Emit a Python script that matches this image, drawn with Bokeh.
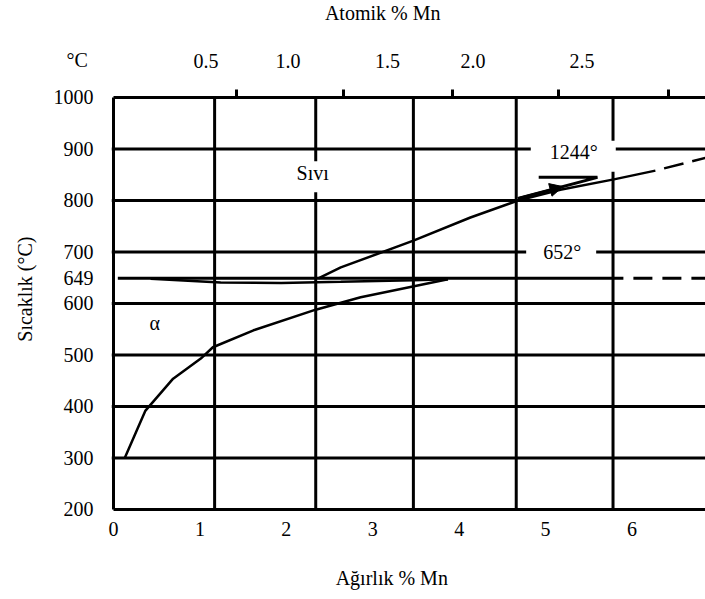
import math
from bokeh.plotting import figure
from bokeh.models import Range1d, FixedTicker, LinearAxis, Label, Arrow, NormalHead
from bokeh.embed import file_html
from bokeh.resources import INLINE

FONT = "Liberation Serif"

# ---- axes / ticks ----
wt_ticks = [0, 1, 2, 3, 4, 5, 6]                       # Ağırlık % Mn
temp_ticks = [200, 300, 400, 500, 600, 649, 700, 800, 900, 1000]
temp_grid = [300, 400, 500, 600, 700, 800, 900]
wt_grid = [1.17, 2.34, 3.47, 4.66, 5.78]
at_labels = ["0.5", "1.0", "1.5", "2.0", "2.5"]        # Atomik % Mn
at_label_wt = [1.07, 2.02, 3.17, 4.16, 5.42]
at_mark_wt = [1.42, 2.66, 3.92, 5.15, 6.42]
wt_min, wt_max = 0, 7
t_min, t_max = 200, 1000

# ---- curves ----
solidus_wt = [0.13, 0.26, 0.37, 0.69, 1.01, 1.15, 1.62, 2.34, 2.86, 3.87]
solidus_t = [300, 350, 392, 454, 493, 515, 548, 588, 612, 647]

liquidus_wt = [2.37, 2.63, 3.47, 4.13, 4.68, 5.17, 5.79, 6.27]
liquidus_t = [649, 670, 722, 767, 800, 821, 841, 858]
liquidus_ext_wt = [6.27, 6.95]
liquidus_ext_t = [858, 887]

lens_wt = [0.43, 1.24, 1.94, 2.63, 3.47, 3.87]
lens_t = [648, 641, 640, 642, 645, 647]

peritectic_t = 649
peri_solid_wt = [0.05, 5.90]
peri_dash_wt = [5.90, 7.00]

pointer_wt = [4.68, 5.60, 4.92]
pointer_t = [804, 845, 845]
pointer_head_wt = [4.68, 5.20]
pointer_head_t = [804, 827]

# frame covers the whole canvas; the axes sit at fixed data locations
p = figure(width=705, height=599, output_backend="svg", toolbar_location=None,
           x_range=Range1d(-1.3075, 6.85), y_range=Range1d(25.24, 1188.35),
           min_border_left=0, min_border_right=0, min_border_top=0, min_border_bottom=0)
p.outline_line_color = None
p.background_fill_color = "white"
p.border_fill_color = "white"
p.xgrid.visible = False
p.ygrid.visible = False

# grid lines limited to the diagram box
p.segment(x0=wt_grid, x1=wt_grid, y0=[t_min] * len(wt_grid), y1=[t_max] * len(wt_grid),
          line_color="black", line_width=3)
p.segment(x0=[-0.02] * len(temp_grid), x1=[wt_max] * len(temp_grid), y0=temp_grid, y1=temp_grid,
          line_color="black", line_width=3)

# bottom axis
xa = p.xaxis[0]
xa.fixed_location = t_min
xa.bounds = (wt_min, wt_max)
xa.ticker = FixedTicker(ticks=wt_ticks)
xa.axis_line_width = 3
xa.major_tick_out = 0
xa.major_tick_in = 0
xa.minor_tick_line_color = None
xa.major_label_standoff = 13
xa.major_label_text_font = FONT
xa.major_label_text_font_size = "20px"
xa.major_label_text_color = "black"

# left axis
ya = p.yaxis[0]
ya.fixed_location = wt_min
ya.bounds = (t_min, t_max)
ya.ticker = FixedTicker(ticks=temp_ticks)
ya.axis_line_width = 3
ya.major_tick_out = 0
ya.major_tick_in = 0
ya.minor_tick_line_color = None
ya.major_label_standoff = 20
ya.major_label_text_font = FONT
ya.major_label_text_font_size = "20px"
ya.major_label_text_color = "black"

# top axis (atomic %)
ta = LinearAxis(fixed_location=t_max, bounds=(wt_min, wt_max),
                ticker=FixedTicker(ticks=at_label_wt, minor_ticks=at_mark_wt),
                major_label_overrides={v: s for v, s in zip(at_label_wt, at_labels)},
                axis_line_width=3, major_tick_out=0, major_tick_in=0,
                minor_tick_out=8, minor_tick_in=0, minor_tick_line_width=3,
                minor_tick_line_color="black",
                major_label_standoff=21, major_label_text_font=FONT,
                major_label_text_font_size="20px", major_label_text_color="black")
p.add_layout(ta, "above")

# curves
LW = 2.5
p.line(solidus_wt, solidus_t, line_color="black", line_width=LW)
p.line(liquidus_wt, liquidus_t, line_color="black", line_width=LW)
p.line(liquidus_ext_wt, liquidus_ext_t, line_color="black", line_width=LW,
       line_dash="20 9", line_dash_offset=20)
p.line(lens_wt, lens_t, line_color="black", line_width=LW)
p.line(peri_solid_wt, [peritectic_t] * 2, line_color="black", line_width=3)
p.line(peri_dash_wt, [peritectic_t] * 2, line_color="black", line_width=3,
       line_dash="19 10", line_dash_offset=19)
p.line(pointer_wt, pointer_t, line_color="black", line_width=3)
p.add_layout(Arrow(end=NormalHead(size=13, fill_color="black", line_color="black"),
                   x_start=pointer_head_wt[0], y_start=pointer_head_t[0],
                   x_end=pointer_head_wt[1], y_end=pointer_head_t[1],
                   line_color="black", line_width=2.5))

def lab(x, y, text, angle=0.0, **kw):
    p.add_layout(Label(x=x, y=y, text=text, angle=angle, text_font=FONT,
                       text_font_size="20px", text_color="black",
                       text_align="center", text_baseline="middle", **kw))

lab(2.305, 846, "Sıvı", background_fill_color="white",
    padding=dict(left=2, right=2, top=1, bottom=8))
lab(0.477, 563, "α")
lab(5.32, 886, "1244°", background_fill_color="white",
    padding=dict(left=19, right=18, top=0, bottom=9))
lab(5.18, 700, "652°", background_fill_color="white",
    padding=dict(left=17, right=15, top=2, bottom=2))

# axis titles and unit
lab(-0.42, 1072, "°C")
lab(3.115, 1165, "Atomik % Mn")
lab(3.22, 67, "Ağırlık % Mn")
lab(-1.024, 628, "Sıcaklık (°C)", angle=math.pi / 2)

open("out.html", "w").write(file_html(p, INLINE))
